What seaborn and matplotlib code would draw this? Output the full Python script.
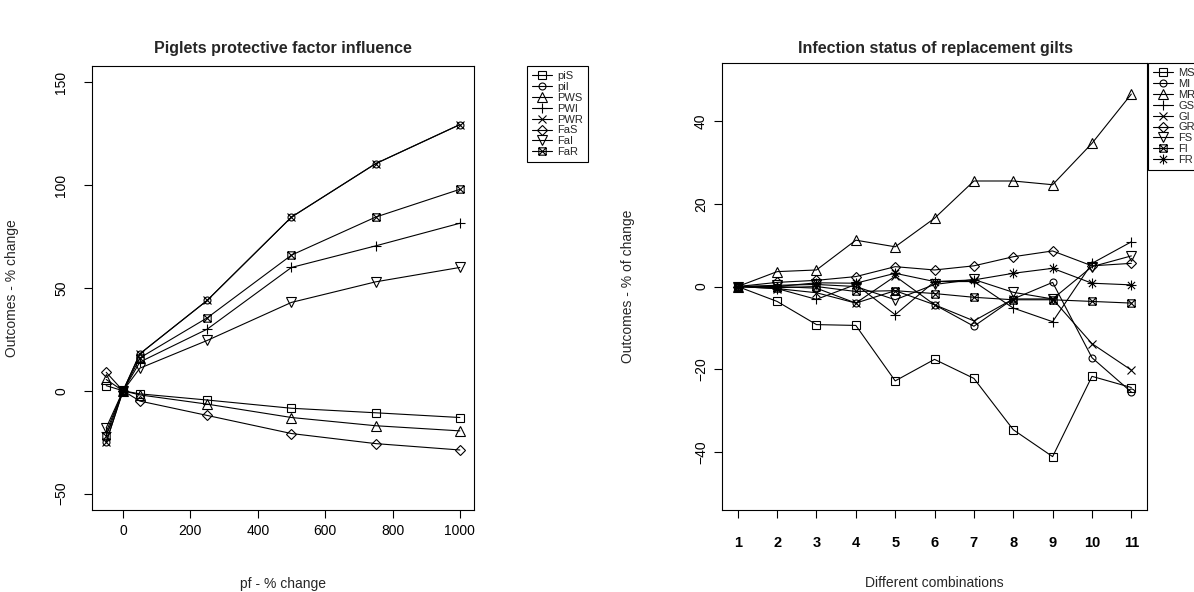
import matplotlib
matplotlib.use("Agg")
import matplotlib.pyplot as plt
from matplotlib.path import Path
import seaborn as sns

# ---- Piglets protective factor influence -------------------------------
pf_change = [-50, 0, 50, 250, 500, 750, 1000]
piS = [2.5, 0, -1.5, -4.5, -8.5, -10.7, -13.0]
piI = [-25.0, 0, 18.0, 44.0, 84.5, 110.5, 129.5]
PWS = [5.5, 0, -2.0, -6.5, -13.0, -17.0, -19.5]
PWI = [-20.0, 0, 14.0, 30.0, 60.0, 70.5, 81.5]
PWR = [-25.0, 0, 18.0, 44.0, 84.5, 110.5, 129.5]
FaS = [9.0, 0, -5.0, -12.0, -20.8, -25.7, -28.8]
FaI = [-18.0, 0, 11.0, 24.5, 43.0, 53.0, 60.0]
FaR = [-22.0, 0, 16.0, 35.5, 66.0, 84.5, 98.0]
piglet_names = ["piS", "piI", "PWS", "PWI", "PWR", "FaS", "FaI", "FaR"]
piglet_series = [piS, piI, PWS, PWI, PWR, FaS, FaI, FaR]

# ---- Infection status of replacement gilts -----------------------------
combination = [1, 2, 3, 4, 5, 6, 7, 8, 9, 10, 11]
MS = [0, -3.6, -9.2, -9.4, -22.8, -17.6, -22.2, -34.6, -41.1, -21.7, -24.4]
MI = [0, 0.0, -0.4, -4.0, -1.0, -4.4, -9.6, -3.0, 1.0, -17.2, -25.5]
MR = [0, 3.6, 4.0, 11.2, 9.6, 16.5, 25.5, 25.5, 24.6, 34.6, 46.5]
GS = [0, -0.5, -3.1, 0.5, -6.8, 1.2, 1.2, -5.2, -8.5, 5.6, 10.8]
GI = [0, -0.5, -1.5, -4.0, 2.5, -4.4, -8.3, -3.0, -3.0, -13.8, -20.2]
GR = [0, 1.0, 1.5, 2.4, 4.8, 4.0, 5.0, 7.2, 8.6, 5.0, 5.6]
FS = [0, 0.3, 0.5, 0.0, -3.2, 0.5, 1.7, -1.4, -3.0, 4.8, 7.4]
FI = [0, -0.3, 0.0, -1.2, -1.0, -1.7, -2.6, -3.2, -3.2, -3.6, -4.0]
FR = [0, 0.0, 0.9, 0.8, 3.2, 1.2, 1.6, 3.2, 4.4, 0.8, 0.4]
gilt_names = ["MS", "MI", "MR", "GS", "GI", "GR", "FS", "FI", "FR"]
gilt_series = [MS, MI, MR, GS, GI, GR, FS, FI, FR]

# ---- symbols: square, circle, triangle, plus, cross, diamond,
#      down-triangle, boxed cross, asterisk
M, L, C = Path.MOVETO, Path.LINETO, Path.CLOSEPOLY
boxed_x = Path(
    [(-1, -1), (1, -1), (1, 1), (-1, 1), (-1, -1),
     (-1, -1), (1, 1), (-1, 1), (1, -1)],
    [M, L, L, L, C, M, L, M, L])
d = 0.72
asterisk = Path(
    [(-1, 0), (1, 0), (0, -1), (0, 1),
     (-d, -d), (d, d), (-d, d), (d, -d)],
    [M, L, M, L, M, L, M, L])
symbols = [("s", 5.3), ("o", 5.0), ("^", 6.5), ("+", 7.5), ("x", 5.3),
           ("D", 5.0), ("v", 6.5), (boxed_x, 5.3), (asterisk, 7.2)]

sns.set_theme(style="ticks")
plt.rcParams["font.family"] = ["Liberation Sans", "DejaVu Sans"]
plt.rcParams["axes.edgecolor"] = "black"
plt.rcParams["axes.linewidth"] = 0.8

W, H = 1194, 592
fig = plt.figure(figsize=(W / 100, H / 100), dpi=100)
ax1 = fig.add_axes([0.0771, 0.1385, 0.3199, 0.750])
ax2 = fig.add_axes([0.6047, 0.1385, 0.3560, 0.755])


def draw_series(ax, x, names, series):
    for i, (name, vals) in enumerate(zip(names, series)):
        mk, ms = symbols[i]
        sns.lineplot(x=x, y=vals, ax=ax, color="black", linewidth=0.8,
                     marker=mk, markersize=ms, markerfacecolor="none",
                     markeredgecolor="black", markeredgewidth=0.8,
                     label=name, legend=False, sort=False)


def style_axis(ax, ypad, xpad, xsize=10, xweight="normal"):
    for sp in ax.spines.values():
        sp.set_visible(True)
        sp.set_color("black")
        sp.set_linewidth(0.8)
    ax.tick_params(direction="out", length=6, width=0.8, color="black",
                   labelsize=10, labelcolor="black")
    ax.tick_params(axis="y", pad=ypad)
    ax.tick_params(axis="x", pad=xpad, labelsize=xsize)
    plt.setp(ax.get_yticklabels(), rotation=90, va="center")
    plt.setp(ax.get_xticklabels(), fontweight=xweight)
    ax.grid(False)


draw_series(ax1, pf_change, piglet_names, piglet_series)
ax1.set_xlim(-92, 1042)
ax1.set_ylim(-58, 158)
ax1.set_xticks([0, 200, 400, 600, 800, 1000])
ax1.set_yticks([-50, 0, 50, 100, 150])
style_axis(ax1, ypad=11, xpad=4)
ax1.set_xlabel("pf - % change", fontsize=10)
ax1.set_ylabel("Outcomes - % change", fontsize=10)
ax1.xaxis.set_label_coords(0.5, -0.152)
ax1.yaxis.set_label_coords(-0.19, 0.5)

draw_series(ax2, combination, gilt_names, gilt_series)
ax2.set_xlim(0.6, 11.4)
ax2.set_ylim(-54, 54)
ax2.set_xticks(combination)
ax2.set_yticks([-40, -20, 0, 20, 40])
style_axis(ax2, ypad=4, xpad=13, xsize=10.5, xweight="bold")
ax2.set_xlabel("Different combinations", fontsize=10)
ax2.set_ylabel("Outcomes - % of change", fontsize=10)
ax2.xaxis.set_label_coords(0.5, -0.148)
ax2.yaxis.set_label_coords(-0.205, 0.5)

fig.text(283 / W, 1 - 48 / H, "Piglets protective factor influence",
         ha="center", va="center", fontsize=11.5, fontweight="bold")
fig.text(935 / W, 1 - 48 / H, "Infection status of replacement gilts",
         ha="center", va="center", fontsize=11.5, fontweight="bold")


def add_legend(ax, anchor):
    h, l = ax.get_legend_handles_labels()
    leg = fig.legend(h, l, loc="upper left", bbox_to_anchor=anchor,
                     bbox_transform=fig.transFigure, frameon=True,
                     fancybox=False, edgecolor="black", fontsize=8,
                     handlelength=1.8, handletextpad=0.5, labelspacing=0.08,
                     borderpad=0.45, borderaxespad=0)
    leg.get_frame().set_linewidth(0.8)
    leg.get_frame().set_alpha(None)


add_legend(ax1, (527 / W, 1 - 66 / H))
add_legend(ax2, (1148 / W, 1 - 63 / H))

fig.savefig("out.png", dpi=100)
